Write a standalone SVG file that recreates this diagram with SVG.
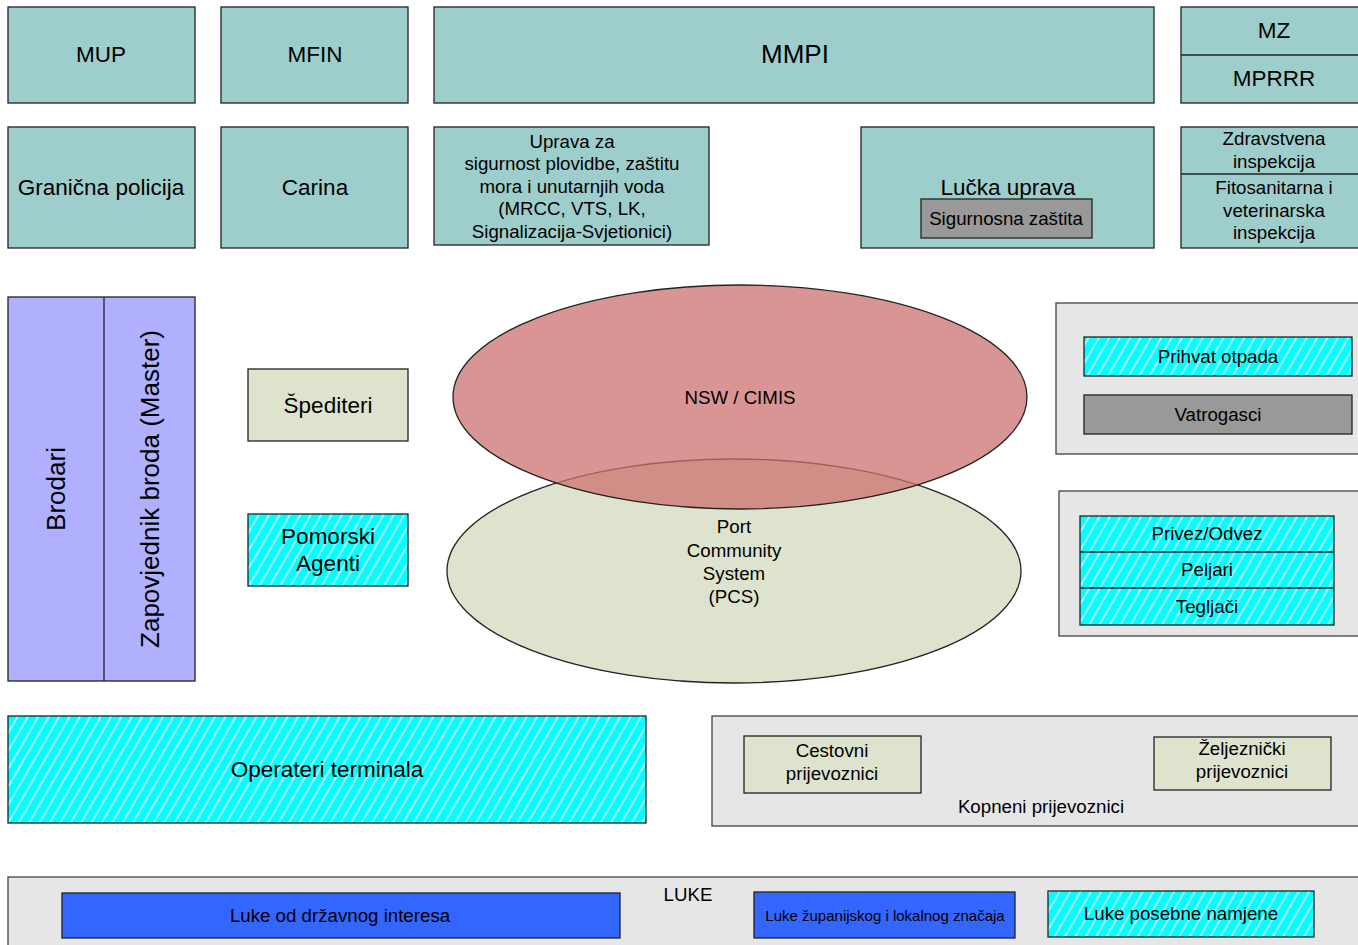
<svg xmlns="http://www.w3.org/2000/svg" width="1358" height="945" viewBox="0 0 1358 945">
<defs>
<pattern id="hatch" patternUnits="userSpaceOnUse" width="9" height="9" patternTransform="rotate(30)">
<rect width="9" height="9" style="fill:#00FFFF;stroke:none"/>
<line x1="4.5" y1="-1" x2="4.5" y2="10" style="stroke:#E2F2F2;stroke-width:1.5"/>
</pattern>
</defs>
<style>
.b{stroke:#222;stroke-width:1.3}
.teal{fill:#9ECECC}
.lav{fill:#B0B0FF}
.beige{fill:#DDE3CC}
.grey{fill:#E6E6E6;stroke:#444}
.dgrey{fill:#999999}
.blue{fill:#3366FF}
.hat{fill:url(#hatch)}
text{font-family:"Liberation Sans",Arial,sans-serif;fill:#000;text-anchor:middle;dominant-baseline:central}
.l{font-size:22.5px}
.m{font-size:18.7px}
.s{font-size:15px}
.xl{font-size:26px}
</style>
<rect width="1358" height="945" fill="#fff"/>

<g id="mup"><rect class="b teal" x="8" y="7" width="187" height="96"/><text class="l" x="101" y="54">MUP</text></g>
<g id="mfin"><rect class="b teal" x="221" y="7" width="187" height="96"/><text class="l" x="315" y="54">MFIN</text></g>
<g id="mmpi"><rect class="b teal" x="434" y="7" width="720" height="96"/><text class="xl" x="795" y="54">MMPI</text></g>
<g id="mz"><rect class="b teal" x="1181" y="7" width="180" height="96"/><line class="b" x1="1181" y1="55" x2="1358" y2="55"/><text class="l" x="1274" y="30">MZ</text><text class="l" x="1274" y="78">MPRRR</text></g>

<g id="granicna"><rect class="b teal" x="8" y="127" width="187" height="121"/><text class="l" x="101" y="187">Granična policija</text></g>
<g id="carina"><rect class="b teal" x="221" y="127" width="187" height="121"/><text class="l" x="315" y="187">Carina</text></g>
<g id="uprava"><rect class="b teal" x="434" y="127" width="275" height="118"/>
<text class="m" x="572" y="141">Uprava za</text>
<text class="m" x="572" y="163">sigurnost plovidbe, zaštitu</text>
<text class="m" x="572" y="186">mora i unutarnjih voda</text>
<text class="m" x="572" y="208">(MRCC, VTS, LK,</text>
<text class="m" x="572" y="231">Signalizacija-Svjetionici)</text></g>
<g id="lucka"><rect class="b teal" x="861" y="127" width="293" height="121"/><text class="l" x="1008" y="187">Lučka uprava</text>
<g id="sigurnosna"><rect class="b dgrey" x="921" y="199" width="171" height="39"/><text class="m" x="1006" y="218">Sigurnosna zaštita</text></g></g>
<g id="inspekcija"><rect class="b teal" x="1181" y="127" width="180" height="121"/><line class="b" x1="1181" y1="174" x2="1358" y2="174"/>
<text class="m" x="1274" y="138">Zdravstvena</text><text class="m" x="1274" y="161">inspekcija</text>
<text class="m" x="1274" y="187">Fitosanitarna i</text><text class="m" x="1274" y="210">veterinarska</text><text class="m" x="1274" y="232">inspekcija</text></g>

<g id="brodari"><rect class="b lav" x="8" y="297" width="187" height="384"/><line class="b" x1="104" y1="297" x2="104" y2="681"/>
<text class="xl" transform="translate(56,489) rotate(-90)">Brodari</text>
<text class="xl" transform="translate(150,489) rotate(-90)">Zapovjednik broda (Master)</text></g>

<g id="spediteri"><rect class="b beige" x="248" y="369" width="160" height="72"/><text class="l" x="328" y="405">Špediteri</text></g>
<g id="agenti"><rect class="b hat" x="248" y="514" width="160" height="72"/><text class="l" x="328" y="536">Pomorski</text><text class="l" x="328" y="563">Agenti</text></g>

<g id="pcs"><ellipse class="b beige" cx="734" cy="571" rx="287" ry="112"/>
<text class="m" x="734" y="526">Port</text><text class="m" x="734" y="550">Community</text><text class="m" x="734" y="573">System</text><text class="m" x="734" y="596">(PCS)</text></g>
<g id="nsw"><ellipse class="b" cx="740" cy="397" rx="287" ry="112" fill="#CC7270" fill-opacity="0.75"/><text class="m" x="740" y="397">NSW / CIMIS</text></g>

<g id="grupa1"><rect class="b grey" x="1056" y="303" width="305" height="151"/>
<g id="otpad"><rect class="b hat" x="1084" y="337" width="268" height="39"/><text class="m" x="1218" y="356">Prihvat otpada</text></g>
<g id="vatrogasci"><rect class="b dgrey" x="1084" y="395" width="268" height="39"/><text class="m" x="1218" y="414">Vatrogasci</text></g></g>

<g id="grupa2"><rect class="b grey" x="1059" y="491" width="302" height="145"/>
<rect class="b hat" x="1080" y="516" width="254" height="109"/>
<line class="b" x1="1080" y1="552" x2="1334" y2="552"/><line class="b" x1="1080" y1="588" x2="1334" y2="588"/>
<text class="m" x="1207" y="533">Privez/Odvez</text><text class="m" x="1207" y="569">Peljari</text><text class="m" x="1207" y="606">Tegljači</text></g>

<g id="operateri"><rect class="b hat" x="8" y="716" width="638" height="107"/><text class="l" x="327" y="769">Operateri terminala</text></g>

<g id="kopneni"><rect class="b grey" x="712" y="716" width="649" height="110"/>
<text class="m" x="1041" y="806">Kopneni prijevoznici</text>
<g id="cestovni"><rect class="b beige" x="744" y="736" width="177" height="57"/><text class="m" x="832" y="750">Cestovni</text><text class="m" x="832" y="773">prijevoznici</text></g>
<g id="zeljeznicki"><rect class="b beige" x="1154" y="737" width="177" height="53"/><text class="m" x="1242" y="748">Željeznički</text><text class="m" x="1242" y="771">prijevoznici</text></g></g>

<g id="luke"><rect class="b grey" x="8" y="877" width="1353" height="75"/>
<text class="m" x="688" y="894">LUKE</text>
<g id="drzavne"><rect class="b blue" x="62" y="893" width="558" height="45"/><text class="m" x="340" y="915">Luke od državnog interesa</text></g>
<g id="zupanijske"><rect class="b blue" x="754" y="892" width="261" height="46"/><text class="s" x="885" y="915">Luke županijskog i lokalnog značaja</text></g>
<g id="posebne"><rect class="b hat" x="1048" y="891" width="266" height="46"/><text class="m" x="1181" y="913">Luke posebne namjene</text></g></g>

<g id="connectors"></g>
</svg>
